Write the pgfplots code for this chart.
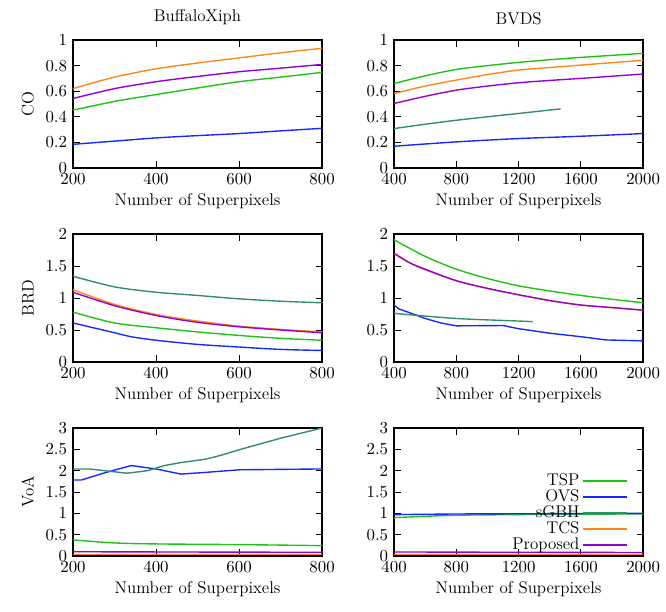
\documentclass[border=0pt]{standalone}
\usepackage{pgfplots}
\pgfplotsset{compat=1.18}
\usepgfplotslibrary{groupplots}
\usetikzlibrary{calc}
\definecolor{cTSP}{RGB}{30,195,20}
\definecolor{cOVS}{RGB}{20,40,255}
\definecolor{cGBH}{RGB}{50,140,110}
\definecolor{cTCS}{RGB}{255,135,25}
\definecolor{cPRO}{RGB}{150,0,210}
\begin{document}
\fontsize{11}{13}\selectfont
\begin{tikzpicture}[font=\fontsize{11}{13}\selectfont]
\begin{groupplot}[
  group style={group size=2 by 3, horizontal sep=46.8pt, vertical sep=42.9pt},
  scale only axis, width=161.9pt, height=83.2pt,
  axis line style={line width=0.9pt},
  tick style={black, line width=0.6pt},
  tick align=inside,
  every tick label/.append style={font=\fontsize{11}{13}\selectfont},
  label style={font=\fontsize{11}{13}\selectfont},
  title style={font=\fontsize{11}{13}\selectfont},
  /pgf/number format/1000 sep={},
  xlabel={Number of Superpixels},
  every axis plot/.append style={line width=0.9pt, no marks},
  xlabel style={yshift=2pt},
]
% ---------- CO BuffaloXiph
\nextgroupplot[title={BuffaloXiph}, ylabel={CO}, xmin=200, xmax=800, ymin=0, ymax=1,
  xtick={200,400,600,800}, ytick={0,0.2,0.4,0.6,0.8,1}]
\addplot[cTSP, smooth] coordinates {(200,0.452)(300,0.52)(400,0.574)(500,0.625)(600,0.674)(700,0.71)(800,0.747)};
\addplot[cOVS, smooth] coordinates {(200,0.185)(300,0.21)(400,0.235)(500,0.253)(600,0.269)(700,0.29)(800,0.31)};
\addplot[cTCS, smooth] coordinates {(200,0.62)(300,0.71)(400,0.775)(500,0.82)(600,0.86)(700,0.90)(800,0.935)};
\addplot[cPRO, smooth] coordinates {(200,0.543)(300,0.62)(400,0.674)(500,0.715)(600,0.752)(700,0.78)(800,0.809)};
% ---------- CO BVDS
\nextgroupplot[title={BVDS}, xmin=400, xmax=2000, ymin=0, ymax=1,
  xtick={400,800,1200,1600,2000}, ytick={0,0.2,0.4,0.6,0.8,1}]
\addplot[cTSP, smooth] coordinates {(400,0.66)(600,0.72)(800,0.77)(1000,0.80)(1200,0.825)(1400,0.846)(1600,0.864)(1800,0.88)(2000,0.896)};
\addplot[cOVS, smooth] coordinates {(400,0.17)(800,0.204)(1200,0.23)(1600,0.248)(2000,0.269)};
\addplot[cGBH, smooth] coordinates {(400,0.308)(600,0.342)(800,0.373)(1000,0.40)(1200,0.426)(1470,0.462)};
\addplot[cTCS, smooth] coordinates {(400,0.582)(600,0.64)(800,0.687)(1000,0.73)(1200,0.765)(1400,0.785)(1600,0.804)(1800,0.823)(2000,0.841)};
\addplot[cPRO, smooth] coordinates {(400,0.504)(600,0.56)(800,0.608)(1000,0.64)(1200,0.666)(1400,0.684)(1600,0.70)(1800,0.717)(2000,0.734)};
% ---------- BRD BuffaloXiph
\nextgroupplot[ylabel={BRD}, xmin=200, xmax=800, ymin=0, ymax=2,
  xtick={200,400,600,800}, ytick={0,0.5,1,1.5,2}]
\addplot[cTSP, smooth] coordinates {(200,0.78)(300,0.61)(400,0.535)(500,0.47)(600,0.415)(700,0.37)(800,0.34)};
\addplot[cOVS, smooth] coordinates {(200,0.61)(300,0.457)(340,0.395)(400,0.34)(500,0.275)(600,0.234)(700,0.197)(800,0.18)};
\addplot[cGBH, smooth] coordinates {(200,1.34)(300,1.174)(400,1.09)(500,1.04)(600,0.987)(700,0.95)(800,0.925)};
\addplot[cTCS, smooth] coordinates {(200,1.13)(300,0.90)(400,0.743)(500,0.64)(600,0.56)(700,0.51)(800,0.47)};
\addplot[cPRO, smooth] coordinates {(200,1.09)(300,0.88)(400,0.727)(500,0.62)(600,0.55)(700,0.50)(800,0.457)};
% ---------- BRD BVDS
\nextgroupplot[xmin=400, xmax=2000, ymin=0, ymax=2,
  xtick={400,800,1200,1600,2000}, ytick={0,0.5,1,1.5,2}]
\addplot[cTSP, smooth] coordinates {(400,1.91)(600,1.65)(800,1.45)(1000,1.305)(1200,1.19)(1400,1.11)(1600,1.04)(1800,0.98)(2000,0.925)};
\addplot[cOVS] coordinates {(400,0.89)(430,0.83)(500,0.77)(600,0.68)(700,0.61)(800,0.565)(1100,0.57)(1200,0.52)(1400,0.45)(1600,0.395)(1760,0.345)(2000,0.33)};
\addplot[cGBH, smooth] coordinates {(400,0.76)(800,0.68)(1200,0.64)(1290,0.63)};
\addplot[cTCS, smooth] coordinates {(400,1.69)(500,1.55)(600,1.44)(800,1.27)(1000,1.15)(1200,1.05)(1400,0.96)(1600,0.89)(1800,0.85)(2000,0.81)};
\addplot[cPRO, smooth] coordinates {(400,1.70)(500,1.55)(600,1.45)(800,1.27)(1000,1.15)(1200,1.05)(1400,0.96)(1600,0.89)(1800,0.85)(2000,0.81)};
% ---------- VoA BuffaloXiph
\nextgroupplot[ylabel={VoA}, xmin=200, xmax=800, ymin=0, ymax=3,
  xtick={200,400,600,800}, ytick={0,0.5,1,1.5,2,2.5,3}]
\addplot[cTSP, smooth] coordinates {(200,0.377)(300,0.306)(400,0.283)(600,0.267)(800,0.243)};
\addplot[cOVS] coordinates {(200,1.78)(220,1.78)(280,1.96)(340,2.12)(400,2.04)(460,1.92)(520,1.96)(600,2.02)(700,2.03)(800,2.04)};
\addplot[cGBH] coordinates {(200,2.04)(240,2.04)(330,1.94)(380,2.0)(420,2.12)(460,2.19)(520,2.27)(560,2.37)(600,2.49)(700,2.76)(800,3.0)};
\addplot[cTCS] coordinates {(200,0.04)(400,0.04)(600,0.04)(800,0.04)};
\addplot[cPRO] coordinates {(200,0.10)(400,0.095)(600,0.09)(800,0.088)};
% ---------- VoA BVDS
\nextgroupplot[xmin=400, xmax=2000, ymin=0, ymax=3,
  xtick={400,800,1200,1600,2000}, ytick={0,0.5,1,1.5,2,2.5,3},
  legend style={draw=none, fill=none, at={(0.957,0.685)}, anchor=north east,
    font=\fontsize{11}{13}\selectfont, row sep=-2pt, nodes={inner sep=1.5pt}},
  legend cell align=right, legend plot pos=right,
  legend image code/.code={\draw[#1] (0cm,0cm) -- (1cm,0cm);}]
\addlegendimage{color=cTSP, line width=1.3pt}\addlegendentry{TSP}
\addlegendimage{color=cOVS, line width=1.3pt}\addlegendentry{OVS}
\addlegendimage{color=cGBH, line width=1.3pt}\addlegendentry{sGBH}
\addlegendimage{color=cTCS, line width=1.3pt}\addlegendentry{TCS}
\addlegendimage{color=cPRO, line width=1.3pt}\addlegendentry{Proposed}
\addplot[cTSP, forget plot, smooth] coordinates {(400,0.90)(600,0.93)(800,0.955)(1200,0.97)(1600,0.98)(2000,0.985)};
\addplot[cOVS, forget plot] coordinates {(400,0.97)(800,0.985)(1200,0.99)(1600,0.995)(2000,1.0)};
\addplot[cTCS, forget plot] coordinates {(400,0.04)(800,0.04)(1200,0.04)(1600,0.04)(2000,0.04)};
\addplot[cPRO, forget plot] coordinates {(400,0.095)(800,0.09)(1200,0.088)(1600,0.085)(2000,0.082)};
\end{groupplot}
\pgfresetboundingbox
\path[use as bounding box] ($(group c1r1.north west)+(-47.45pt,26pt)$) rectangle ($(group c1r1.north west)+(385.45pt,-371.8pt)$);
\end{tikzpicture}
\end{document}
